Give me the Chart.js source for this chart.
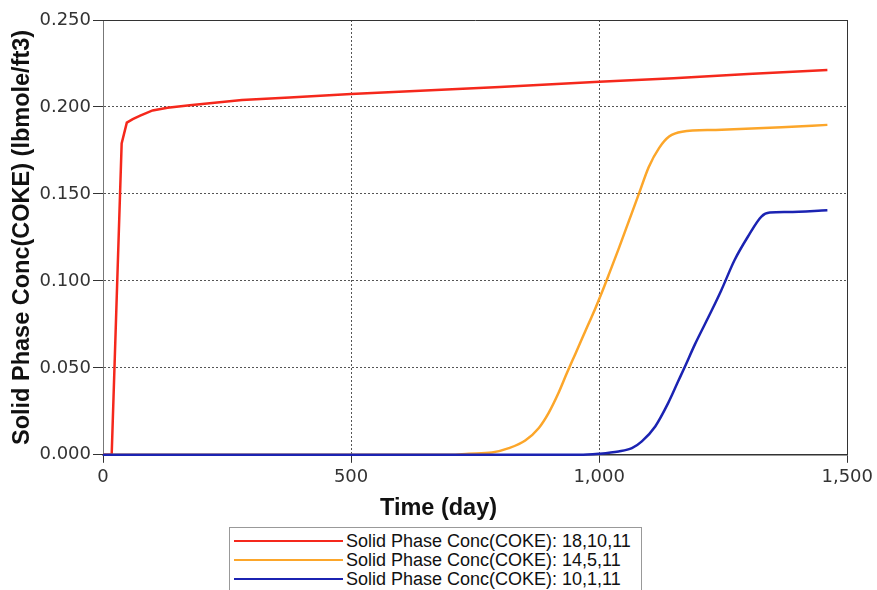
<!DOCTYPE html>
<html>
<head>
<meta charset="utf-8">
<script src="https://cdn.jsdelivr.net/npm/chart.js@4.4.0/dist/chart.umd.min.js"></script>
<style>
  html, body { margin: 0; padding: 0; background: #fff; overflow: hidden; }
  #wrap { position: relative; width: 877px; height: 590px; }
  #legend { position: absolute; left: 229px; top: 527px; width: 411px; height: 72px; border: 1px solid #999; background: #fff;
            font-family: "Liberation Sans", Arial, sans-serif; font-size: 18px; color: #111; }
  .row { position: absolute; left: 0; height: 19px; line-height: 19px; white-space: nowrap; }
  .swatch { position: absolute; left: 4px; top: 8px; width: 109px; height: 2px; }
  .label { position: absolute; left: 116px; top: 0; }
</style>
</head>
<body>
<div id="wrap">
  <canvas id="chart" width="877" height="590"></canvas>
  <div id="legend"></div>
</div>
<script>
// series names and colours
const seriesNames = ['Solid Phase Conc(COKE): 18,10,11', 'Solid Phase Conc(COKE): 14,5,11', 'Solid Phase Conc(COKE): 10,1,11'];
const seriesColors = ['#f5281c', '#fca62a', '#1b23b2'];

// block 18,10,11
const daysRed = [0, 17.5, 37.6, 48, 60, 75, 100, 130, 175, 230, 280, 376, 500, 650, 800, 1000, 1150, 1300, 1460];
const concRed = [0, 0, 0.179, 0.191, 0.193, 0.195, 0.198, 0.1995, 0.201, 0.2025, 0.204, 0.2055, 0.2075, 0.2095, 0.2115, 0.2145, 0.2165, 0.219, 0.2212];

// block 14,5,11
const daysOrange = [0, 700, 737, 784, 818, 851, 878, 898, 918, 935, 952, 972, 992, 1005, 1020, 1040, 1060, 1080, 1100, 1121, 1141, 1167, 1235, 1368, 1460];
const concOrange = [0, 0, 0.0006, 0.0013, 0.0038, 0.0082, 0.0153, 0.024, 0.0355, 0.047, 0.058, 0.071, 0.084, 0.093, 0.104, 0.119, 0.1345, 0.150, 0.1655, 0.1765, 0.183, 0.1858, 0.1868, 0.1883, 0.1897];

// block 10,1,11
const daysBlue = [0, 960, 999, 1039, 1066, 1086, 1113, 1139, 1159, 1173, 1193, 1226, 1246, 1273, 1300, 1327, 1344, 1380, 1460];
const concBlue = [0, 0, 0.0006, 0.0019, 0.0038, 0.0077, 0.0163, 0.0297, 0.0421, 0.0508, 0.0635, 0.0825, 0.0945, 0.112, 0.1255, 0.137, 0.1393, 0.1396, 0.1406];

const xTitle = 'Time (day)';
const yTitle = 'Solid Phase Conc(COKE) (lbmole/ft3)';

const allDays = [daysRed, daysOrange, daysBlue];
const allConc = [concRed, concOrange, concBlue];

const datasets = seriesNames.map((name, i) => ({
  label: name,
  data: allDays[i].map((d, j) => ({ x: d, y: allConc[i][j] })),
  borderColor: seriesColors[i],
  borderWidth: 2.5,
  pointRadius: 0,
  // the red rise is a straight jump, the others are smooth S-curves
  cubicInterpolationMode: i === 0 ? 'default' : 'monotone',
  tension: 0,
  clip: 5,
  order: 2 - i
}));

const tickFont = { family: 'DejaVu Sans', size: 18 };
const titleFont = { family: '"Liberation Sans", Arial, sans-serif', size: 23.5, weight: 'bold' };
const edgeless = (ctx) => (ctx.index === 0 || ctx.index === ctx.scale.ticks.length - 1) ? 'rgba(0,0,0,0)' : '#555';

new Chart(document.getElementById('chart'), {
  type: 'line',
  data: { datasets: datasets },
  options: {
    responsive: false,
    animation: false,
    layout: { padding: { left: 0, right: 0, top: 0, bottom: 67 } },
    plugins: {
      legend: { display: false },
      tooltip: { enabled: false },
      title: { display: true, text: xTitle, position: 'bottom', color: '#111', font: titleFont, padding: { top: 2, bottom: 0 } }
    },
    scales: {
      x: {
        type: 'linear', position: 'bottom', min: 0, max: 1500,
        afterFit: (s) => { s.height = 38; },
        ticks: { stepSize: 500, font: tickFont, color: '#333', padding: 4, maxRotation: 0,
                 callback: (v) => v.toLocaleString('en-US') },
        grid: { color: edgeless, tickColor: '#333', tickLength: 8, lineWidth: 1 },
        border: { color: '#333', width: 1.5, dash: [2, 2] }
      },
      y: {
        type: 'linear', position: 'left', min: 0, max: 0.25,
        afterFit: (s) => { s.width = 103; },
        ticks: { stepSize: 0.05, font: tickFont, color: '#333', padding: 2, callback: (v) => v.toFixed(3) },
        grid: { color: edgeless, tickColor: '#333', tickLength: 10, lineWidth: 1 },
        border: { color: '#777', width: 1, dash: [2, 2] },
        title: { display: true, text: yTitle, color: '#111', font: titleFont, padding: { top: 8, bottom: 0 } }
      },
      xTop: {
        type: 'linear', position: 'top', min: 0, max: 1500,
        afterFit: (s) => { s.height = 20; },
        ticks: { display: false }, grid: { display: false },
        border: { color: '#333', width: 1 }
      },
      yRight: {
        type: 'linear', position: 'right', min: 0, max: 0.25,
        afterFit: (s) => { s.width = 29; },
        ticks: { display: false }, grid: { display: false },
        border: { color: '#333', width: 1 }
      }
    }
  }
});

// legend box below the chart
const legend = document.getElementById('legend');
seriesNames.forEach((name, i) => {
  const row = document.createElement('div');
  row.className = 'row';
  row.style.top = (4 + i * 19) + 'px';
  row.style.width = '100%';
  const sw = document.createElement('span');
  sw.className = 'swatch';
  sw.style.background = seriesColors[i];
  const lb = document.createElement('span');
  lb.className = 'label';
  lb.textContent = name;
  row.appendChild(sw);
  row.appendChild(lb);
  legend.appendChild(row);
});
</script>
</body>
</html>
